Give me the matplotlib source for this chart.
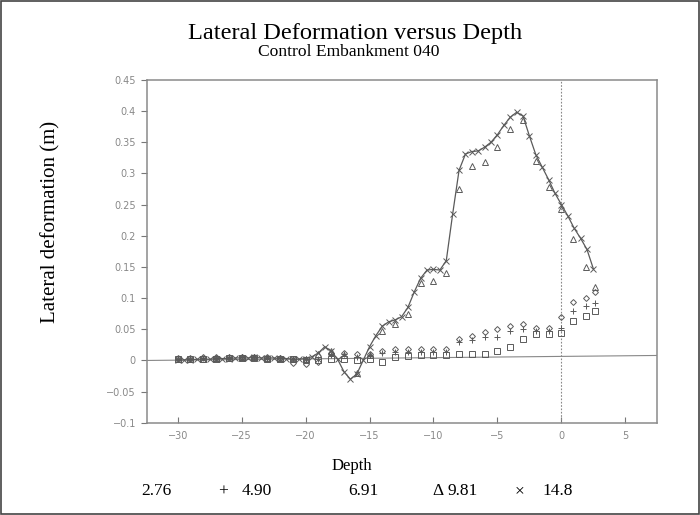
import matplotlib
matplotlib.use("Agg")
import matplotlib.pyplot as plt
from matplotlib.patches import Rectangle

# Depth grid for the continuous 14.8 survey (0.5 steps)
depth_fine = [-30.0, -29.5, -29.0, -28.5, -28.0, -27.5, -27.0, -26.5, -26.0, -25.5,
              -25.0, -24.5, -24.0, -23.5, -23.0, -22.5, -22.0, -21.5, -21.0, -20.5,
              -20.0, -19.5, -19.0, -18.5, -18.0, -17.5, -17.0, -16.5, -16.0, -15.5,
              -15.0, -14.5, -14.0, -13.5, -13.0, -12.5, -12.0, -11.5, -11.0, -10.5,
              -10.0, -9.5, -9.0, -8.5, -8.0, -7.5, -7.0, -6.5, -6.0, -5.5,
              -5.0, -4.5, -4.0, -3.5, -3.0, -2.5, -2.0, -1.5, -1.0, -0.5,
              0.0, 0.5, 1.0, 1.5, 2.0, 2.5]
defl_148 = [0.000, 0.001, 0.001, 0.002, 0.002, 0.002, 0.003, 0.003, 0.003, 0.004,
            0.004, 0.004, 0.005, 0.004, 0.004, 0.004, 0.003, 0.003, 0.002, 0.002,
            0.003, 0.006, 0.012, 0.022, 0.015, 0.002, -0.018, -0.030, -0.022, 0.000,
            0.022, 0.040, 0.055, 0.062, 0.065, 0.070, 0.085, 0.110, 0.132, 0.145,
            0.146, 0.145, 0.160, 0.235, 0.305, 0.331, 0.335, 0.336, 0.342, 0.350,
            0.362, 0.377, 0.390, 0.398, 0.392, 0.360, 0.330, 0.310, 0.290, 0.268,
            0.250, 0.232, 0.212, 0.196, 0.178, 0.147]

# Depth grid for the earlier surveys
depth = [-30, -29, -28, -27, -26, -25, -24, -23, -22, -21, -20, -19, -18, -17,
         -16, -15, -14, -13, -12, -11, -10, -9, -8, -7, -6, -5, -4, -3, -2, -1,
         0, 0.9, 1.9, 2.6]
defl_276 = [0.002, 0.002, 0.003, 0.003, 0.004, 0.004, 0.004, 0.003, 0.003, 0.002,
            0.001, 0.000, 0.003, 0.002, 0.000, 0.002, -0.003, 0.006, 0.007, 0.008,
            0.008, 0.008, 0.010, 0.011, 0.011, 0.015, 0.021, 0.034, 0.042, 0.042,
            0.044, 0.063, 0.071, 0.079]
defl_490 = [0.003, 0.003, 0.004, 0.004, 0.005, 0.005, 0.005, 0.004, 0.004, 0.003,
            0.002, 0.003, 0.008, 0.010, 0.005, 0.008, 0.012, 0.013, 0.014, 0.014,
            0.013, 0.014, 0.030, 0.032, 0.037, 0.037, 0.047, 0.050, 0.048, 0.048,
            0.052, 0.080, 0.088, 0.092]
defl_691 = [0.004, 0.004, 0.005, 0.005, 0.006, 0.006, 0.006, 0.005, 0.004, -0.004,
            -0.006, -0.003, 0.012, 0.012, 0.010, 0.010, 0.015, 0.018, 0.019, 0.019,
            0.018, 0.019, 0.035, 0.040, 0.045, 0.050, 0.056, 0.058, 0.052, 0.052,
            0.070, 0.093, 0.100, 0.110]
defl_981 = [0.002, 0.003, 0.003, 0.004, 0.004, 0.005, 0.005, 0.004, 0.004, 0.003,
            0.002, 0.010, 0.015, 0.008, -0.020, 0.008, 0.048, 0.058, 0.075, 0.125,
            0.128, 0.140, 0.275, 0.312, 0.318, 0.342, 0.371, 0.385, 0.320, 0.278,
            0.243, 0.195, 0.150, 0.118]

# Reference line drawn across the plot (slightly skewed, as plotted)
base_x = [-32.4, 7.5]
base_y = [0.000, 0.008]

x_ticks = [-30, -25, -20, -15, -10, -5, 0, 5]
y_ticks = [-0.1, -0.05, 0, 0.05, 0.1, 0.15, 0.2, 0.25, 0.3, 0.35, 0.4, 0.45]
y_ticklabels = ["\u22120.1", "\u22120.05", "0", "0.05", "0.1", "0.15", "0.2",
                "0.25", "0.3", "0.35", "0.4", "0.45"]

INK = "#5a5a5a"
SERIF = "Liberation Serif"

fig = plt.figure(figsize=(7.0, 5.15), dpi=100)
ax = fig.add_axes([0.210, 0.179, 0.729, 0.666])

ax.plot(base_x, base_y, color="#888888", lw=0.8)
ax.axvline(0, color="#888888", lw=0.8, ls=(0, (1.5, 1.5)))

mk = dict(ls="none", color=INK, mfc="none", mew=0.7)
ax.plot(depth, defl_276, marker="s", ms=3.8, **mk)
ax.plot(depth, defl_490, marker="+", ms=4.8, **mk)
ax.plot(depth, defl_691, marker="D", ms=3.0, **mk)
ax.plot(depth, defl_981, marker="^", ms=4.0, **mk)
ax.plot(depth_fine, defl_148, color=INK, lw=0.9, marker="x", ms=3.8, mew=0.7)

ax.set_xlim(-32.4, 7.5)
ax.set_ylim(-0.1, 0.45)
ax.set_xticks(x_ticks)
ax.set_xticklabels([str(t).replace("-", "\u2212") for t in x_ticks])
ax.set_yticks(y_ticks)
ax.set_yticklabels(y_ticklabels)
ax.tick_params(axis="x", direction="in", length=4, width=0.8, color="#777777",
               labelsize=7, labelcolor="#888888", pad=6)
ax.tick_params(axis="y", direction="out", length=4, width=0.8, color="#777777",
               labelsize=7, labelcolor="#888888", pad=4)
for sp in ax.spines.values():
    sp.set_color("#8a8a8a")
    sp.set_linewidth(1.1)

fig.text(0.507, 0.934, "Lateral Deformation versus Depth", family=SERIF,
         fontsize=17.6, ha="center", va="center")
fig.text(0.498, 0.900, "Control Embankment 040", family=SERIF,
         fontsize=12.6, ha="center", va="center")
fig.text(0.072, 0.569, "Lateral deformation (m)", family=SERIF, fontsize=15,
         rotation=90, ha="center", va="center")
fig.text(0.503, 0.096, "Depth", family=SERIF, fontsize=12, ha="center", va="center")

# Survey legend row along the bottom
legend_row = [(141, "2.76"), (218, "+"), (242, "4.90"), (348, "6.91"),
              (432, "\u0394"), (447, "9.81"), (515, "\u00d7"), (542, "14.8")]
for px, s in legend_row:
    fig.text(px / 700, 0.046, s, family=SERIF, fontsize=12.5, ha="left", va="center")

fig.add_artist(Rectangle((0.002, 0.002), 0.996, 0.996, transform=fig.transFigure,
                         fill=False, edgecolor="#444444", lw=1.2))

fig.savefig("out.png", dpi=100)
